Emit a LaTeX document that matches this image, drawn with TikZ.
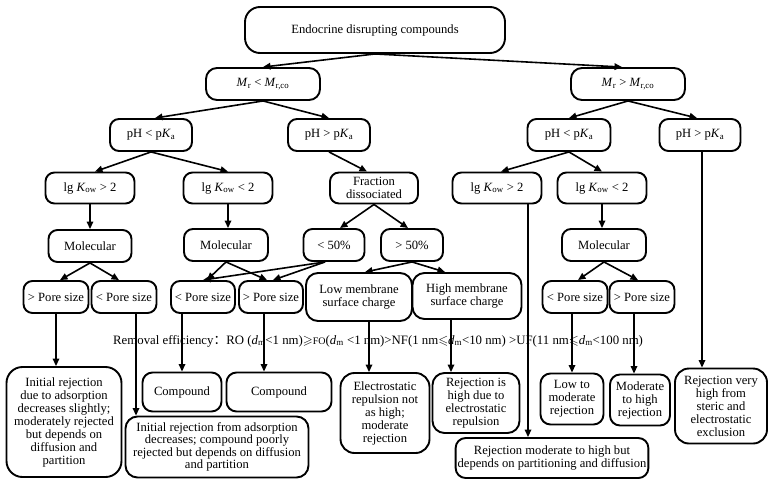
\documentclass[tikz,border=0pt]{standalone}
\usepackage{amssymb}
\usepackage{fontspec}
\setmainfont{Liberation Serif}
\newfontfamily\cjk{Noto Sans CJK SC}
\usetikzlibrary{arrows.meta,calc}

\newcommand{\Mr}{\textit{M}\textsubscript{r}}
\newcommand{\Mrco}{\textit{M}\textsubscript{r,co}}
\newcommand{\pKa}{p\textit{K}\textsubscript{a}}
\newcommand{\Kow}{\textit{K}\textsubscript{ow}}
\newcommand{\dm}{\textit{d}\textsubscript{m}}

\begin{document}
\begin{tikzpicture}[x=1pt, y=-1pt,
    box/.style={draw=black, line width=1.9pt, rounded corners=9pt, align=center, inner sep=2pt, font=\fontsize{12.6}{13}\selectfont},
    cond/.style={box, minimum height=32pt},
    pore/.style={box, minimum width=65pt, minimum height=32pt},
    outcome/.style={box, rounded corners=12pt},
    arr/.style={-{Triangle[length=7.5pt,width=6.5pt]}, line width=1.6pt},
    ln/.style={line width=1.6pt}
]
\useasboundingbox (0,0) rectangle (770,482);

\node[box, minimum width=260pt, minimum height=46pt, rounded corners=15pt] (root) at (375,30) {Endocrine disrupting compounds};
\node[cond, minimum width=114pt, rounded corners=11pt] (mlow) at (263,84) {\Mr{} < \Mrco};
\node[cond, minimum width=114pt, rounded corners=11pt] (mhigh) at (628,84) {\Mr{} > \Mrco};

\node[cond, minimum width=82pt] (phl1) at (151,135) {pH < \pKa};
\node[cond, minimum width=82pt] (phg1) at (329,135) {pH > \pKa};
\node[cond, minimum width=83pt] (phl2) at (569,135) {pH < \pKa};
\node[cond, minimum width=81pt] (phg2) at (700,135) {pH > \pKa};

\node[cond, minimum width=89pt, minimum height=31pt] (kg1) at (90,188) {lg \Kow{} > 2};
\node[cond, minimum width=89pt, minimum height=31pt] (kl1) at (228,188) {lg \Kow{} < 2};
\node[cond, minimum width=88pt, minimum height=31pt] (frac) at (374,188) {Fraction\\dissociated};
\node[cond, minimum width=89pt, minimum height=31pt] (kg2) at (497,188) {lg \Kow{} > 2};
\node[cond, minimum width=89pt, minimum height=31pt] (kl2) at (602,188) {lg \Kow{} < 2};

\node[cond, minimum width=83pt] (mol1) at (90,246) {Molecular};
\node[cond, minimum width=84pt] (mol2) at (226,245) {Molecular};
\node[cond, minimum width=61pt] (lt50) at (334,245) {< 50\%};
\node[cond, minimum width=62pt] (gt50) at (412,245) {> 50\%};
\node[cond, minimum width=84pt] (mol3) at (604,245) {Molecular};

\node[pore] (pg1) at (56,297) {> Pore size};
\node[pore] (pl1) at (124,297) {< Pore size};
\node[pore, minimum width=64pt] (pl2) at (203,297) {< Pore size};
\node[pore, minimum width=64pt] (pg2) at (271,297) {> Pore size};
\node[box, minimum width=106pt, minimum height=48pt, rounded corners=12pt] (lowc) at (359,297) {Low membrane\\surface charge};
\node[box, minimum width=109pt, minimum height=46pt, rounded corners=12pt] (highc) at (467,296) {High membrane\\surface charge};
\node[pore] (pl3) at (575,297) {< Pore size};
\node[pore] (pg3) at (642,297) {> Pore size};

\node[font=\fontsize{12.8}{13}\selectfont, anchor=west, inner sep=0pt] (eff) at (113,341)
  {Removal efficiency{\cjk ：}RO (\dm<1 nm)$\geqslant${\fontsize{10}{10}\selectfont FO}(\dm{} <1 nm)>NF(1 nm$\leqslant$\dm<10 nm) >UF(11 nm$\leqslant$\dm<100 nm)};

\node[outcome, minimum width=115pt, minimum height=110pt, rounded corners=16pt] (r1) at (64,422)
  {Initial rejection\\due to adsorption\\decreases slightly;\\moderately rejected\\but depends on\\diffusion and\\partition};
\node[outcome, minimum width=79pt, minimum height=39pt, rounded corners=10pt] (c1) at (182,392) {Compound};
\node[outcome, minimum width=105pt, minimum height=39pt, rounded corners=10pt] (c2) at (279,392) {Compound};
\node[outcome, minimum width=183pt, minimum height=61pt, font=\fontsize{12.6}{12.3}\selectfont] (r2) at (217,447)
  {Initial rejection from adsorption\\decreases; compound poorly\\rejected but depends on diffusion\\and partition};
\node[outcome, minimum width=89pt, minimum height=80pt, rounded corners=14pt] (r3) at (385,413)
  {Electrostatic\\repulsion not\\as high;\\moderate\\rejection};
\node[outcome, minimum width=87pt, minimum height=60pt] (r4) at (476,403)
  {Rejection is\\high due to\\electrostatic\\repulsion};
\node[outcome, minimum width=191pt, minimum height=40pt, rounded corners=10pt] (r5) at (552,458)
  {Rejection moderate to high but\\depends on partitioning and diffusion};
\node[outcome, minimum width=63pt, minimum height=51pt, rounded corners=10pt] (r6) at (572,399)
  {Low to\\moderate\\rejection};
\node[outcome, minimum width=60pt, minimum height=51pt, rounded corners=10pt] (r7) at (640,400)
  {Moderate\\to high\\rejection};
\node[outcome, minimum width=92pt, minimum height=75pt, rounded corners=14pt] (r8) at (721,406)
  {Rejection very\\high from\\steric and\\electrostatic\\exclusion};

\draw[arr] (root.south) -- (mlow.north);
\draw[arr] (root.south) -- ([xshift=-6pt]mhigh.north);
\draw[arr] (mlow.south) -- ([xshift=4pt]phl1.north);
\draw[arr] (mlow.south) -- (phg1.north);
\draw[arr] (mhigh.south) -- (phl2.north);
\draw[arr] (mhigh.south) -- ([xshift=-3pt]phg2.north);

\draw[arr] (phl1.south) -- ([xshift=5pt]kg1.north);
\draw[arr] (phl1.south) -- (kl1.north);
\draw[arr] (phg1.south) -- ([xshift=-7pt]frac.north);
\draw[arr] (phl2.south) -- ([xshift=4pt]kg2.north);
\draw[arr] (phl2.south) -- (kl2.north);

\draw[arr] (kg1) -- (mol1);
\draw[arr] (kl1.south) -- (kl1.south |- mol2.north);
\draw[arr] (frac.south) -- ([xshift=6pt]lt50.north);
\draw[arr] (frac.south) -- ([xshift=-4pt]gt50.north);
\draw[arr] (kl2.south) -- (kl2.south |- mol3.north);

\draw[arr] (mol1.south) -- ([xshift=4pt]pg1.north);
\draw[arr] (mol1.south) -- ([xshift=-5pt]pl1.north);
\draw[arr] (mol2.south) -- ([xshift=4pt]pl2.north);
\draw[arr] (mol2.south) -- ([xshift=-4pt]pg2.north);
\draw[arr] ([xshift=-9pt]lt50.south) -- (pl2.north);
\draw[arr] ([xshift=-9pt]lt50.south) -- ([xshift=2pt]pg2.north);
\draw[arr] (gt50.south) -- ([xshift=6pt]lowc.north);
\draw[arr] (gt50.south) -- ([xshift=-22pt]highc.north);
\draw[arr] (mol3.south) -- ([xshift=3pt]pl3.north);
\draw[arr] (mol3.south) -- ([xshift=-4pt]pg3.north);

\draw[arr] (pg1.south) -- (pg1.south |- r1.north);
\draw[arr] ([xshift=12pt]pl1.south) -- ([xshift=12pt]pl1.south |- r2.north);
\draw[arr] (pl2.south -| c1.north) -- (c1.north);
\draw[arr] ([xshift=-7pt]pg2.south) -- ([xshift=-7pt]pg2.south |- c2.north);
\draw[arr] ([xshift=10pt]lowc.south) -- ([xshift=10pt]lowc.south |- r3.north);
\draw[arr] ([xshift=-16pt]highc.south) -- ([xshift=-16pt]highc.south |- r4.north);
\draw[arr] ([xshift=31pt]kg2.south) -- ([xshift=31pt]kg2.south |- r5.north);
\draw[arr] (pl3.south -| r6.north) -- (r6.north);
\draw[arr] ([xshift=-6pt]r7.north |- pg3.south) -- ([xshift=-6pt]r7.north);
\draw[arr] ([xshift=2pt]phg2.south) -- ([xshift=2pt]phg2.south |- r8.north);

\end{tikzpicture}
\end{document}
